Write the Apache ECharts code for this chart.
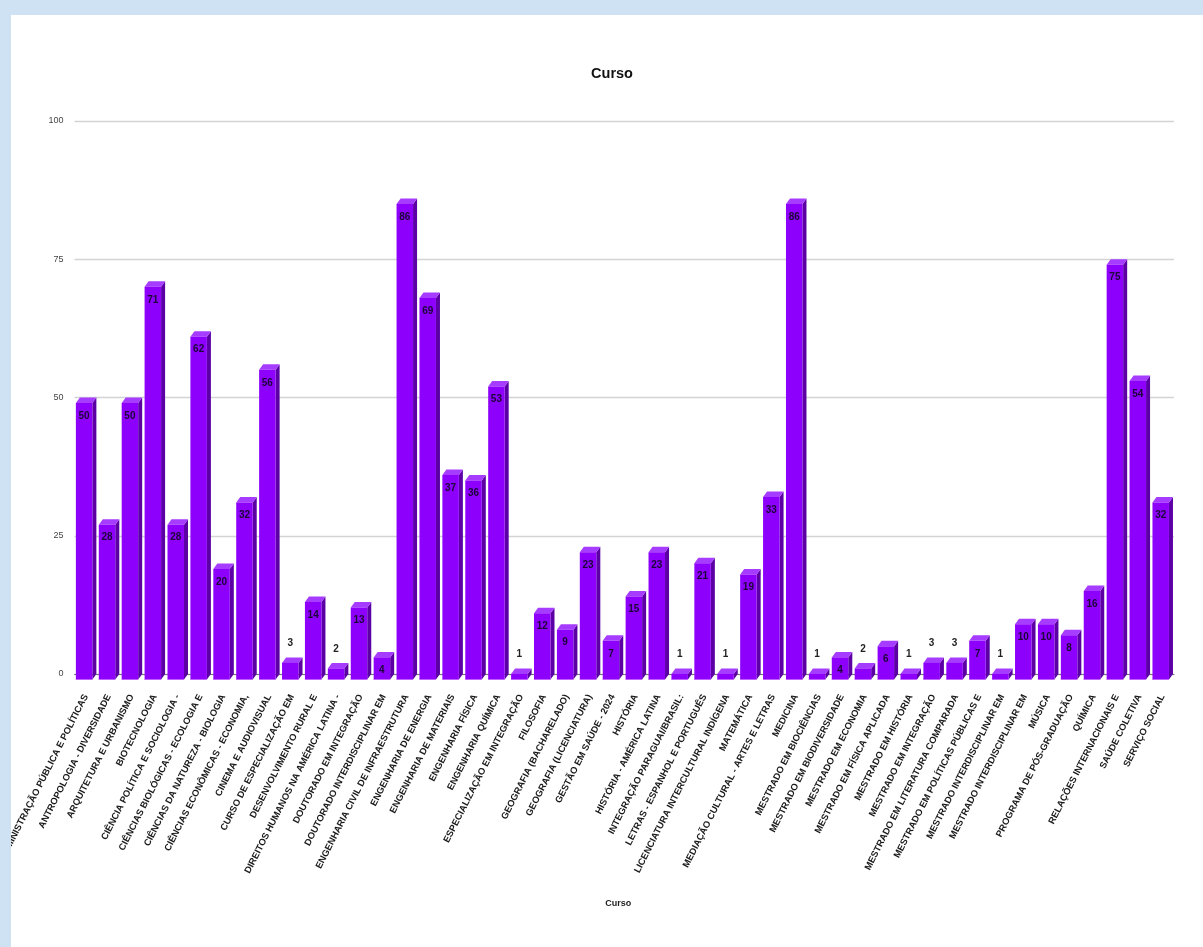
<!DOCTYPE html>
<html>
<head>
<meta charset="utf-8">
<script src="https://cdn.jsdelivr.net/npm/echarts@6/dist/echarts.min.js"></script>
<style>
html,body{margin:0;padding:0;background:#cfe2f3;width:1203px;height:947px;overflow:hidden}
#c{position:absolute;left:11px;top:15px;width:1192px;height:932px;background:#fff}
</style>
</head>
<body>
<div id="c"></div>
<script>
const titleText = 'Curso';
const axisName = 'Curso';
const categories = [
 'ADMINISTRAÇÃO PÚBLICA E POLÍTICAS','ANTROPOLOGIA - DIVERSIDADE','ARQUITETURA E URBANISMO','BIOTECNOLOGIA',
 'CIÊNCIA POLÍTICA E SOCIOLOGIA -','CIÊNCIAS BIOLÓGICAS - ECOLOGIA E','CIÊNCIAS DA NATUREZA - BIOLOGIA','CIÊNCIAS ECONÔMICAS - ECONOMIA,',
 'CINEMA E AUDIOVISUAL','CURSO DE ESPECIALIZAÇÃO EM','DESENVOLVIMENTO RURAL E','DIREITOS HUMANOS NA AMÉRICA LATINA -',
 'DOUTORADO EM INTEGRAÇÃO','DOUTORADO INTERDISCIPLINAR EM','ENGENHARIA CIVIL DE INFRAESTRUTURA','ENGENHARIA DE ENERGIA',
 'ENGENHARIA DE MATERIAIS','ENGENHARIA FÍSICA','ENGENHARIA QUÍMICA','ESPECIALIZAÇÃO EM INTEGRAÇÃO',
 'FILOSOFIA','GEOGRAFIA (BACHARELADO)','GEOGRAFIA (LICENCIATURA)','GESTÃO EM SAÚDE - 2024',
 'HISTÓRIA','HISTÓRIA - AMÉRICA LATINA','INTEGRAÇÃO PARAGUAI/BRASIL:','LETRAS - ESPANHOL E PORTUGUÊS',
 'LICENCIATURA INTERCULTURAL INDÍGENA','MATEMÁTICA','MEDIAÇÃO CULTURAL - ARTES E LETRAS','MEDICINA',
 'MESTRADO EM BIOCIÊNCIAS','MESTRADO EM BIODIVERSIDADE','MESTRADO EM ECONOMIA','MESTRADO EM FÍSICA APLICADA',
 'MESTRADO EM HISTÓRIA','MESTRADO EM INTEGRAÇÃO','MESTRADO EM LITERATURA COMPARADA','MESTRADO EM POLÍTICAS PÚBLICAS E',
 'MESTRADO INTERDISCIPLINAR EM','MESTRADO INTERDISCIPLINAR EM','MÚSICA','PROGRAMA DE PÓS-GRADUAÇÃO',
 'QUÍMICA','RELAÇÕES INTERNACIONAIS E','SAÚDE COLETIVA','SERVIÇO SOCIAL'
];
const values = [50,28,50,71,28,62,20,32,56,3,14,2,13,4,86,69,37,36,53,1,12,9,23,7,15,23,1,21,1,19,33,86,1,4,2,6,1,3,3,7,1,10,10,8,16,75,54,32];

const frontColor = '#8d00fb', topColor = '#a63cff', sideColor = '#5c00a6', labelDark = '#1d0638';

function renderBar(params, api) {
  const i = api.value(0), v = api.value(1);
  const back = api.coord([i, v]);
  const base = api.coord([i, 0]);
  const band = api.size([1, 0])[0];
  const dx = band * 0.175, dy = band * 0.24, w = band * 0.72;
  const cx = back[0];
  const x0 = cx - band * 0.44, x1 = x0 + w;
  const yTop = back[1] + dy, yBot = base[1] + dy;
  const children = [
    {type:'polygon', shape:{points:[[x1,yTop],[x1+dx,yTop-dy],[x1+dx,yBot-dy],[x1,yBot]]}, style:{fill:sideColor}},
    {type:'polygon', shape:{points:[[x0,yTop],[x0+dx,yTop-dy],[x1+dx,yTop-dy],[x1,yTop]]}, style:{fill:topColor}},
    {type:'rect', shape:{x:x0,y:yTop,width:w,height:yBot-yTop}, style:{fill:frontColor}},
    {type:'line', shape:{x1:x0,y1:yBot,x2:x1,y2:yBot}, style:{stroke:'#c060ff',lineWidth:1}}
  ];
  const inside = v >= 4;
  children.push({type:'text', z2:10, style:{
    text:String(v), x:x0+w/2, y: inside ? yTop+13 : back[1]-14,
    align:'center', verticalAlign:'middle',
    font:'bold 10px "Liberation Sans", Arial, sans-serif',
    fill: inside ? labelDark : '#222'
  }});
  return {type:'group', children};
}

const chart = echarts.init(document.getElementById('c'), null, {renderer:'canvas'});
chart.setOption({
  animation:false,
  backgroundColor:'#fff',
  title:{text:titleText, left:596, top:46, textAlign:'center',
    textStyle:{fontFamily:'Liberation Sans',fontSize:14.5,fontWeight:'bold',color:'#111'}},
  grid:{left:63.5, top:106, width:1099.5, height:553, containLabel:false, outerBoundsMode:'none'},
  xAxis:{type:'category', data:categories,
    name:axisName, nameLocation:'middle', nameGap:225,
    nameTextStyle:{fontFamily:'Liberation Sans',fontSize:9,fontWeight:'bold',color:'#222',padding:[0,12,0,0]},
    axisTick:{show:false},
    axisLine:{show:true,onZero:true,lineStyle:{color:'#777',width:1}},
    axisLabel:{interval:0,rotate:63,margin:21,hideOverlap:false,
      fontFamily:'Liberation Sans',fontSize:9.4,fontWeight:'bold',color:'#1a1a1a'}
  },
  yAxis:{type:'value',min:0,max:100,interval:25,
    axisLine:{show:false},axisTick:{show:false},
    splitLine:{lineStyle:{color:'#d4d4d4',width:1.4}},
    axisLabel:{margin:11,fontFamily:'Liberation Sans',fontSize:9,color:'#444'}
  },
  series:[{type:'custom',clip:false,renderItem:renderBar,
    encode:{x:0,y:1},
    data:values.map((v,i)=>[i,v])}]
});
</script>
</body>
</html>
